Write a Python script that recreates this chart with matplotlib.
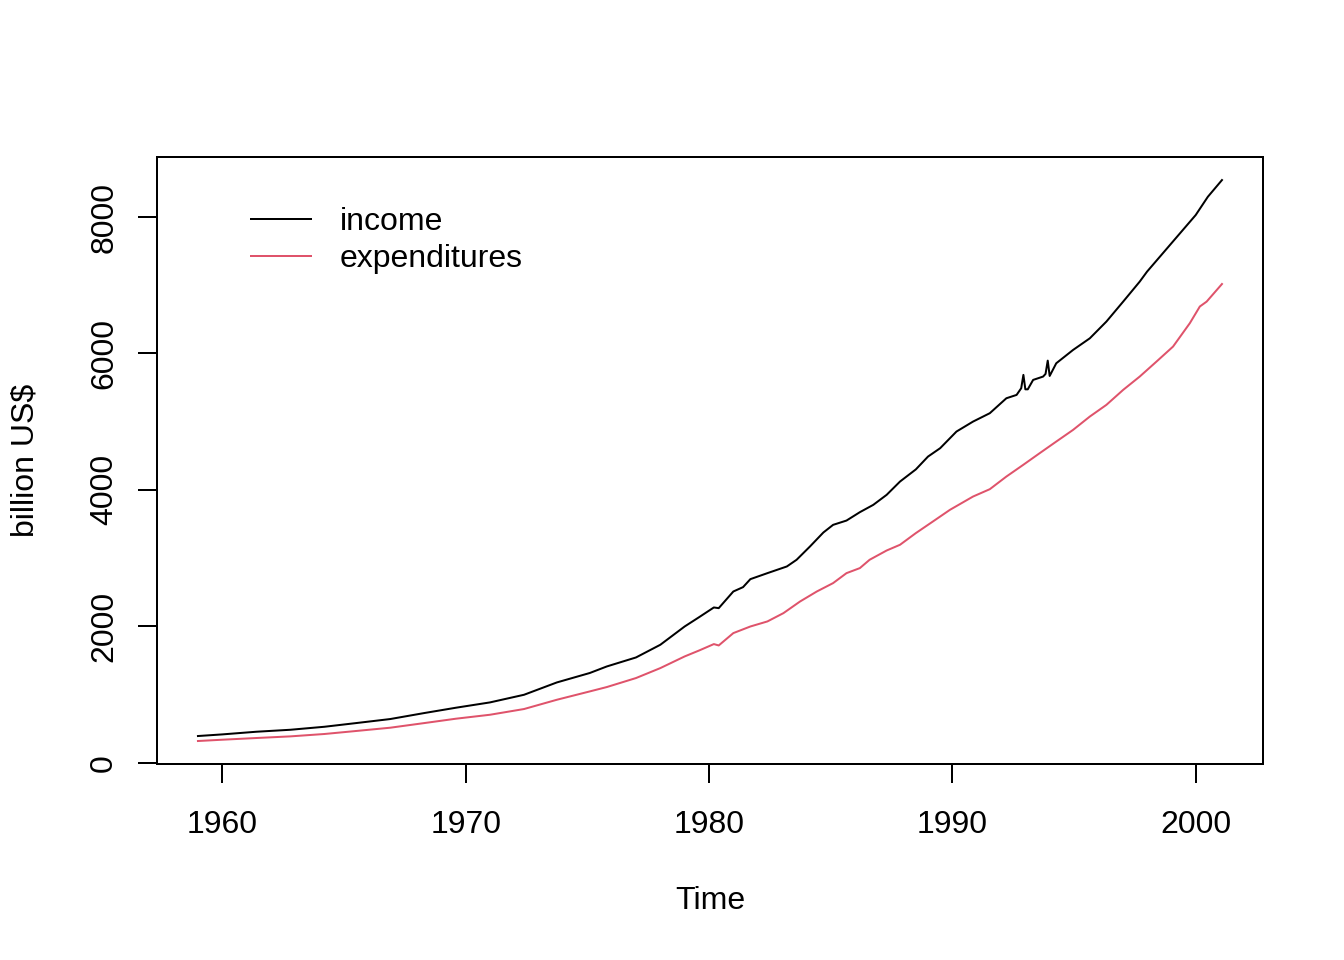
import matplotlib
matplotlib.use("Agg")
import matplotlib.pyplot as plt

plt.rcParams['font.family'] = ['Liberation Sans', 'DejaVu Sans']

# values (decimal year, billion US$)
inc_time = [1959.0, 1960.0, 1961.4, 1962.8, 1964.2, 1965.5, 1966.9, 1968.3, 1969.6,
            1971.0, 1972.4, 1973.75, 1975.1, 1975.8, 1977.0, 1978.0, 1979.0, 1979.6,
            1980.2, 1980.4, 1981.0, 1981.4, 1981.7, 1982.4, 1983.2, 1983.6, 1984.15,
            1984.7, 1985.1, 1985.65, 1986.2, 1986.75, 1987.3, 1987.85, 1988.5, 1989.0,
            1989.5, 1990.17, 1990.85, 1991.54, 1992.22, 1992.64, 1992.83, 1992.92,
            1993.0, 1993.1, 1993.32, 1993.73, 1993.83, 1993.92, 1994.0, 1994.27,
            1994.96, 1995.65, 1996.33, 1997.02, 1997.7, 1998.0, 1999.0, 2000.0,
            2000.5, 2001.08]
income = [391, 415, 454, 483, 527, 581, 640, 728, 806,
          884, 996, 1177, 1315, 1411, 1543, 1729, 1997, 2135,
          2276, 2266, 2510, 2574, 2691, 2779, 2877, 2975, 3170,
          3375, 3487, 3550, 3673, 3780, 3927, 4122, 4300, 4488,
          4611, 4855, 5001, 5124, 5343, 5392, 5490, 5686,
          5474, 5474, 5612, 5661, 5700, 5895, 5670, 5856,
          6051, 6222, 6467, 6760, 7053, 7199, 7614, 8029,
          8297, 8542]

exp_time = [1959.0, 1960.0, 1961.4, 1962.8, 1964.2, 1965.5, 1966.9, 1968.3, 1969.6,
            1971.0, 1972.4, 1973.75, 1975.1, 1975.8, 1977.0, 1978.0, 1979.0, 1979.6,
            1980.2, 1980.4, 1981.0, 1981.7, 1982.4, 1983.06, 1983.74, 1984.43, 1985.1,
            1985.65, 1986.2, 1986.6, 1987.3, 1987.85, 1988.5, 1989.2, 1989.9, 1990.85,
            1991.54, 1992.22, 1992.91, 1993.59, 1994.27, 1994.96, 1995.65, 1996.33,
            1997.02, 1997.7, 1998.39, 1999.07, 1999.76, 2000.17, 2000.45, 2001.08]
expenditures = [318, 337, 362, 386, 421, 465, 513, 581, 645,
                703, 787, 923, 1045, 1109, 1241, 1387, 1558, 1646,
                1739, 1719, 1900, 1997, 2071, 2193, 2363, 2510, 2633,
                2779, 2853, 2975, 3111, 3195, 3366, 3536, 3707, 3902,
                4010, 4195, 4366, 4538, 4708, 4879, 5075, 5246,
                5466, 5661, 5881, 6101, 6444, 6688, 6760, 7018]

x_ticks = [1960, 1970, 1980, 1990, 2000]
y_ticks = [0, 2000, 4000, 6000, 8000]

W, H = 1344, 960
fig = plt.figure(figsize=(7, 5), dpi=192)
ax = fig.add_axes([157 / W, (H - 764) / H, (1263 - 157) / W, (764 - 157) / H])

ax.plot(inc_time, income, color='black', lw=0.75, label='income')
ax.plot(exp_time, expenditures, color='#DF536B', lw=0.75, label='expenditures')

ax.set_xlim(1957.317, 2002.766)
ax.set_ylim(-19, 8880)
ax.set_xticks(x_ticks)
ax.set_yticks(y_ticks)
ax.tick_params(length=7.2, width=0.75, labelsize=12, color='black')
ax.tick_params(axis='x', pad=10)
ax.tick_params(axis='y', pad=7, labelrotation=90)
for lab in ax.get_yticklabels():
    lab.set_va('center')
for sp in ax.spines.values():
    sp.set_linewidth(0.75)

ax.set_xlabel('Time', fontsize=12, va='center')
ax.xaxis.set_label_coords(0.5, -(901 - 764) / (764 - 157))
ax.set_ylabel('billion US$', fontsize=12, va='center', ha='center')
ax.yaxis.set_label_coords(-(157 - 26) / (1263 - 157), 0.5)

ax.legend(loc='upper left', bbox_to_anchor=(0.0854, 0.917), frameon=False,
          fontsize=12, handlelength=1.85, handletextpad=0.9, labelspacing=0.22,
          borderpad=0, borderaxespad=0)

fig.savefig('out.png', dpi=192)
